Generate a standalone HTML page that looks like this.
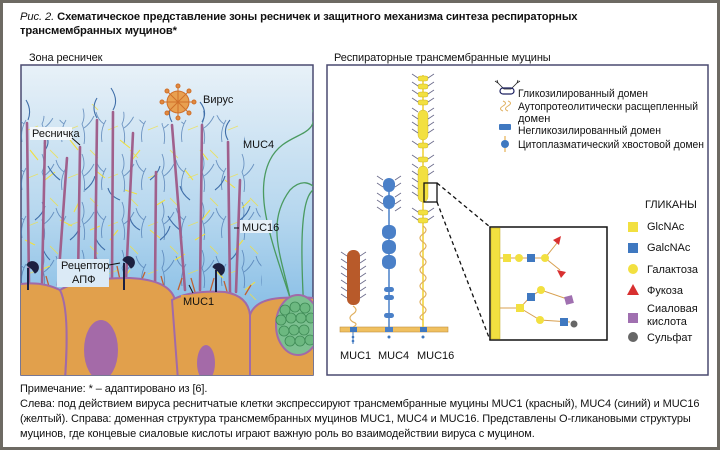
<!DOCTYPE html>
<html><head><meta charset="utf-8"><style>
html,body{margin:0;padding:0}
body{width:720px;height:450px;background:#fff;font-family:"Liberation Sans",sans-serif;position:relative;overflow:hidden}
.frame{position:absolute;left:0;top:0;width:714px;height:444px;border:3px solid #6d6a63}
.t{position:absolute;font-size:11px;color:#111;white-space:nowrap;letter-spacing:-0.1px}
</style></head><body>
<div class="frame"></div>
<div class="t" style="left:20px;top:11px;font-weight:bold;font-size:11.2px"><i style="font-weight:normal">Рис. 2.</i> Схематическое представление зоны ресничек и защитного механизма синтеза респираторных</div>
<div class="t" style="left:20px;top:25px;font-weight:bold;font-size:11.2px">трансмембранных муцинов*</div>
<div class="t" style="left:29px;top:52px">Зона ресничек</div>
<div class="t" style="left:334px;top:52px">Респираторные трансмембранные муцины</div>
<svg width="720" height="450" style="position:absolute;left:0;top:0" font-family="Liberation Sans, sans-serif">
<defs>
<linearGradient id="bg" x1="0" y1="0" x2="0" y2="1"><stop offset="0" stop-color="#e8f1f8"/><stop offset="0.5" stop-color="#b4d6ee"/><stop offset="1" stop-color="#6aaee0"/></linearGradient>
<clipPath id="lc"><rect x="21" y="65" width="292" height="310"/></clipPath>
<pattern id="muc" x="0" y="0" width="40" height="48" patternUnits="userSpaceOnUse">
<g fill="none" stroke-width="0.9" opacity="0.75">
<path stroke="#4a78b0" d="M4 48 q2 -10 -2 -20 q4 -8 0 -18 M4 32 q6 -4 10 -12 M22 46 q-2 -12 4 -22 M24 28 q-6 -4 -8 -12"/>
<path stroke="#f0e040" d="M10 6 l8 8 M28 34 l10 -4"/>
</g>
</pattern>
</defs>
<rect x="21" y="65" width="292" height="310" fill="url(#bg)" stroke="#4a4a70" stroke-width="1.5"/>
<g clip-path="url(#lc)">
<path d="M21 110 L60 120 L100 100 L140 120 L175 125 L205 110 L240 125 L260 180 L262 300 L21 300Z" fill="url(#muc)"/>
<g fill="none" stroke="#4a9a60" stroke-width="1.3">
<path d="M300 330 C280 260 250 200 270 160 C285 130 320 140 313 110"/>
<path d="M295 330 C290 270 260 230 290 190 C310 170 320 200 313 180"/>
<path d="M305 330 C300 250 300 200 313 190"/>
</g>
<g fill="none" stroke-width="1.1">
<path stroke="#f0e040" d="M30 150 l8 10 M45 180 l10 -8 M60 220 l12 6 M25 240 l10 5 M80 200 l-6 12 M95 170 l10 8 M110 240 l8 -10 M125 190 l12 4 M140 150 l-8 10 M150 230 l10 8 M165 200 l-10 6 M185 170 l8 10 M195 240 l10 -6 M210 210 l-8 10 M225 180 l10 8 M235 250 l8 -10 M245 290 l10 -8 M215 270 l8 8 M40 270 l10 -4 M70 140 l8 10 M120 140 l10 8 M175 260 l10 -6 M100 270 l8 6 M130 270 l-6 8 M60 260 l10 6 M200 150 l8 10 M250 200 l-8 8 M90 230 l10 -4"/>
<path stroke="#3f6ea8" d="M28 120 q4 -10 -2 -20 M45 150 q6 -8 0 -16 M97 118 q-6 -10 0 -20 M113 110 q6 -10 -2 -22 M172 122 q-6 -10 2 -20 M202 122 q6 -10 -2 -20 M228 140 q-6 -10 2 -20 M60 180 q-8 -6 -12 -14 M85 190 q8 -6 10 -14 M120 200 q-10 -4 -12 -12 M150 180 q8 -6 10 -14 M190 200 q-8 -6 -10 -14 M215 190 q8 -6 10 -14 M240 220 q8 -6 10 -14 M35 220 q8 -6 10 -14 M105 250 q-8 -6 -10 -14 M160 240 q8 -6 10 -14 M180 230 q-8 -6 -12 -14 M70 240 q8 -6 10 -14 M140 230 q-8 -4 -10 -12 M230 260 q8 -6 8 -14 M50 260 q-6 -6 -8 -14"/>
</g>
<g stroke="#a0608c" stroke-width="2.6" stroke-linecap="round" fill="none">
<path d="M27 123 L29 285"/><path d="M45 140 L42 285"/><path d="M67 158 L58 285"/>
<path d="M80 147 L78 280"/><path d="M97 120 L95 278"/><path d="M113 112 L112 278"/>
<path d="M133 133 L126 280"/><path d="M156 172 L155 290"/><path d="M172 125 L185 290"/>
<path d="M202 125 L200 290"/><path d="M228 142 L230 292"/><path d="M240 180 L236 292"/>
</g>
<g stroke="#c06030" stroke-width="1.3" fill="none">
<path d="M50 290 l-4 -14 M62 285 l5 -12 M86 282 l-3 -14 M105 280 l4 -12 M120 280 l-3 -14 M140 284 l5 -12 M165 290 l-4 -14 M178 290 l4 -12 M195 292 l-4 -14 M210 292 l4 -14 M228 295 l-4 -14 M245 295 l6 -10"/>
</g>
<g stroke="#a16aa8" stroke-width="2" fill="#e1a04c">
<path d="M15 285 Q40 280 60 290 Q70 300 65 380 L15 380 Z"/>
<path d="M60 290 Q80 278 130 278 Q170 280 175 300 L180 380 L65 380 Q70 310 60 290Z"/>
<path d="M172 300 Q190 290 225 292 Q248 296 250 315 L250 380 L178 380 Z"/>
<path d="M250 315 Q255 300 280 298 Q315 296 320 300 L320 380 L250 380Z"/>
</g>
<ellipse cx="101" cy="350" rx="17" ry="30" fill="#a46aa8"/>
<ellipse cx="206" cy="363" rx="9" ry="18" fill="#a46aa8"/>
<g fill="#6cb880" stroke="#3e8a55" stroke-width="0.8">
<ellipse cx="298" cy="325" rx="22" ry="30" fill="#7cc090" stroke="#a16aa8" stroke-width="2"/>
<circle cx="285" cy="310" r="5"/><circle cx="295" cy="307" r="5"/><circle cx="305" cy="308" r="5"/><circle cx="281" cy="320" r="5"/><circle cx="291" cy="318" r="5"/><circle cx="301" cy="318" r="5"/><circle cx="311" cy="318" r="5"/><circle cx="284" cy="331" r="5"/><circle cx="294" cy="330" r="5"/><circle cx="304" cy="330" r="5"/><circle cx="290" cy="341" r="5"/><circle cx="300" cy="341" r="5"/><circle cx="310" cy="340" r="5"/>
</g>
<g fill="#1c2040" stroke="#1c2040">
<path d="M27 265 a6 6 0 1 1 8 8 l-3 -4z"/><line x1="28" y1="268" x2="28" y2="290" stroke-width="2"/>
<path d="M123 260 a6 6 0 1 1 8 8 l-3 -4z"/><line x1="124" y1="263" x2="124" y2="290" stroke-width="2"/>
<path d="M213 267 a6 6 0 1 1 8 8 l-3 -4z"/><line x1="216" y1="270" x2="216" y2="292" stroke-width="2"/>
</g>
</g>
<g stroke="#d0702a" stroke-width="1" fill="#e08a40">
<circle cx="178" cy="102" r="11" fill="#e8a050"/>
<g><line x1="178" y1="86" x2="178" y2="118"/><line x1="162" y1="102" x2="194" y2="102"/><line x1="167" y1="91" x2="189" y2="113"/><line x1="189" y1="91" x2="167" y2="113"/></g>
<circle cx="178" cy="86" r="2"/><circle cx="178" cy="118" r="2"/><circle cx="162" cy="102" r="2"/><circle cx="194" cy="102" r="2"/><circle cx="167" cy="91" r="2"/><circle cx="189" cy="113" r="2"/><circle cx="189" cy="91" r="2"/><circle cx="167" cy="113" r="2"/>
</g>
<g font-size="11" fill="#111">
<text x="203" y="103">Вирус</text>
<rect x="30" y="127" width="42" height="13" fill="#f4f8fb"/><text x="32" y="137">Ресничка</text>
<line x1="72" y1="138" x2="80" y2="145" stroke="#111"/>
<text x="243" y="148">MUC4</text>
<rect x="240" y="220" width="32" height="13" fill="#e6f0f8"/><text x="242" y="231">MUC16</text>
<line x1="234" y1="228" x2="239" y2="228" stroke="#111"/>
<rect x="57" y="259" width="52" height="28" fill="#dbeaf6"/><text x="61" y="269">Рецептор</text><text x="72" y="283">АПФ</text>
<line x1="109" y1="265" x2="120" y2="263" stroke="#111"/>
<rect x="181" y="295" width="34" height="13" fill="#e1a04c"/><text x="183" y="305">MUC1</text>
<line x1="193" y1="293" x2="189" y2="285" stroke="#111"/>
</g>

<rect x="327" y="65" width="381" height="310" fill="#fff" stroke="#4a4a70" stroke-width="1.5"/>
<rect x="340" y="327" width="108" height="5" fill="#f0c060" stroke="#c09040" stroke-width="0.6"/>
<rect x="347" y="250" width="13" height="55" rx="6" fill="#b85a2a"/>
<path d="M353 306 q6 4 0 8 q-6 4 0 8 q6 2 0 5" stroke="#e0b060" fill="none" stroke-width="1.2"/>
<g stroke="#6a6a8a" stroke-width="0.8" fill="none">
<path d="M347 256 l-6 -4 M347 263 l-6 -4 M347 270 l-6 -4 M347 277 l-6 -4 M347 284 l-6 -4 M347 291 l-6 -4 M347 298 l-6 -4 M360 256 l6 -4 M360 263 l6 -4 M360 270 l6 -4 M360 277 l6 -4 M360 284 l6 -4 M360 291 l6 -4 M360 298 l6 -4"/>
</g>
<rect x="350" y="327" width="7" height="5" fill="#3f78c0"/>
<path d="M353 332 v12" stroke="#3f78c0"/><circle cx="353" cy="337" r="1.3" fill="#3f78c0"/><circle cx="353" cy="341" r="1.3" fill="#3f78c0"/>
<line x1="389" y1="180" x2="389" y2="327" stroke="#4a80c8" stroke-width="1.5"/>
<g fill="#4a80c8">
<rect x="383" y="178" width="12" height="14" rx="6"/><rect x="383" y="195" width="12" height="14" rx="6"/>
<rect x="382" y="225" width="14" height="14" rx="6"/><rect x="382" y="240" width="14" height="14" rx="6"/><rect x="382" y="255" width="14" height="14" rx="6"/>
<rect x="384" y="287" width="10" height="5" rx="2.5"/><rect x="384" y="295" width="10" height="5" rx="2.5"/><rect x="384" y="313" width="10" height="5" rx="2.5"/>
<rect x="385" y="327" width="8" height="5"/>
</g>
<circle cx="389" cy="337" r="1.5" fill="#3f78c0"/>
<g stroke="#6a6a8a" stroke-width="0.8" fill="none">
<path d="M383 180 l-6 -4 M383 187 l-6 -4 M383 197 l-6 -4 M383 204 l-6 -4 M383 211 l-6 -4 M395 180 l6 -4 M395 187 l6 -4 M395 197 l6 -4 M395 204 l6 -4 M395 211 l6 -4"/>
</g>
<line x1="423" y1="75" x2="423" y2="327" stroke="#f0d030" stroke-width="1.5"/>
<g fill="#f2e040" stroke="#c0a820" stroke-width="0.4">
<rect x="418" y="76" width="10" height="5" rx="2"/><rect x="418" y="84" width="10" height="5" rx="2"/><rect x="418" y="92" width="10" height="5" rx="2"/><rect x="418" y="100" width="10" height="5" rx="2"/>
<rect x="418" y="110" width="10" height="30" rx="5"/><rect x="418" y="143" width="10" height="5" rx="2"/><rect x="418" y="157" width="10" height="5" rx="2"/>
<rect x="418" y="166" width="10" height="36" rx="5"/><rect x="418" y="210" width="10" height="5" rx="2"/><rect x="418" y="218" width="10" height="5" rx="2"/>
</g>
<path d="M423 226 q6 4 0 8 q-6 4 0 8 q6 4 0 8 q-6 4 0 8 q6 4 0 8 q-6 4 0 8 q6 4 0 8 q-6 4 0 8 q6 4 0 8 q-6 4 0 8 q6 4 0 8 q-6 4 0 6" stroke="#e0b060" fill="none" stroke-width="1.2"/>
<g stroke="#6a6a8a" stroke-width="0.8" fill="none">
<path d="M418 78 l-6 -4 M418 86 l-6 -4 M418 94 l-6 -4 M418 102 l-6 -4 M418 112 l-6 -4 M418 119 l-6 -4 M418 126 l-6 -4 M418 133 l-6 -4 M418 145 l-6 -4 M418 159 l-6 -4 M418 168 l-6 -4 M418 175 l-6 -4 M418 182 l-6 -4 M418 189 l-6 -4 M418 196 l-6 -4 M418 212 l-6 -4 M418 220 l-6 -4 M428 78 l6 -4 M428 86 l6 -4 M428 94 l6 -4 M428 102 l6 -4 M428 112 l6 -4 M428 119 l6 -4 M428 126 l6 -4 M428 133 l6 -4 M428 145 l6 -4 M428 159 l6 -4 M428 168 l6 -4 M428 175 l6 -4 M428 212 l6 -4 M428 220 l6 -4"/>
</g>
<rect x="424" y="183" width="13" height="19" fill="none" stroke="#111" stroke-width="1.3"/>
<rect x="420" y="327" width="7" height="5" fill="#3f78c0"/><circle cx="423" cy="337" r="1.5" fill="#3f78c0"/>
<g stroke="#111" stroke-width="1.3" stroke-dasharray="4,3"><line x1="437" y1="183" x2="490" y2="227"/><line x1="437" y1="202" x2="490" y2="340"/></g>
<g font-size="11" fill="#111"><text x="340" y="359">MUC1</text><text x="378" y="359">MUC4</text><text x="417" y="359">MUC16</text></g>
<rect x="490" y="227" width="117" height="113" fill="#fff" stroke="#111" stroke-width="1.5"/>
<rect x="491" y="228" width="9" height="111" fill="#f2e040" stroke="#c0a820" stroke-width="0.5"/>
<g stroke="#d8a050" stroke-width="1" fill="none">
<path d="M500 258 H545 L557 243 M545 258 L560 270"/>
<path d="M500 308 H520 L530 297 L541 290 L570 300 M520 308 L540 320 L570 322"/>
</g>
<rect x="503" y="254" width="8" height="8" fill="#f2e040"/><circle cx="519" cy="258" r="4" fill="#f2e040"/><rect x="527" y="254" width="8" height="8" fill="#3f78c0"/><circle cx="545" cy="258" r="4" fill="#f2e040"/>
<path d="M553 240 l8 -4 l-2 9z" fill="#d83030"/><path d="M557 270 l9 2 l-5 6z" fill="#d83030"/>
<rect x="516" y="304" width="8" height="8" fill="#f2e040"/><rect x="527" y="293" width="8" height="8" fill="#3f78c0"/><circle cx="541" cy="290" r="4" fill="#f2e040"/><rect x="565" y="296" width="8" height="8" fill="#a070b0" transform="rotate(-15 569 300)"/>
<circle cx="540" cy="320" r="4" fill="#f2e040"/><rect x="560" y="318" width="8" height="8" fill="#3f78c0"/><circle cx="574" cy="324" r="3.5" fill="#666"/>
<path d="M498 83 l6 6 h7 l6 -6 M498 83 l-3 -2 M498 83 l-1 -3 M517 83 l3 -2 M517 83 l1 -3" stroke="#222" fill="none" stroke-width="0.8"/>
<rect x="500" y="88" width="14" height="6" rx="3" fill="none" stroke="#1c2060" stroke-width="1.2"/>
<path d="M503 101 q5 2 0 5 q-5 3 0 5 M508 101 q5 2 0 5 q-5 3 0 5" stroke="#e0b060" fill="none"/>
<rect x="499" y="124" width="12" height="6" rx="1" fill="#3f78c0"/>
<line x1="505" y1="136" x2="505" y2="152" stroke="#e0a030"/><circle cx="505" cy="144" r="4" fill="#3f78c0"/>
<g font-size="11" fill="#111">
<text x="518" y="97" textLength="130" lengthAdjust="spacingAndGlyphs">Гликозилированный домен</text>
<text x="518" y="110" textLength="180" lengthAdjust="spacingAndGlyphs">Аутопротеолитически расщепленный</text>
<text x="518" y="122">домен</text>
<text x="518" y="134" textLength="143" lengthAdjust="spacingAndGlyphs">Негликозилированный домен</text>
<text x="518" y="148" textLength="186" lengthAdjust="spacingAndGlyphs">Цитоплазматический хвостовой домен</text>
<text x="645" y="208">ГЛИКАНЫ</text>
<text x="647" y="230">GlcNAc</text><text x="647" y="251">GalcNAc</text><text x="647" y="273">Галактоза</text><text x="647" y="294">Фукоза</text><text x="647" y="312">Сиаловая</text><text x="647" y="325">кислота</text><text x="647" y="341">Сульфат</text>
</g>
<rect x="628" y="222" width="10" height="10" fill="#f2e040"/>
<rect x="628" y="243" width="10" height="10" fill="#3f78c0"/>
<circle cx="633" cy="269" r="5" fill="#f2e040"/>
<path d="M627 295 l6 -11 l6 11z" fill="#d83030"/>
<rect x="628" y="313" width="10" height="10" fill="#a070b0"/>
<circle cx="633" cy="337" r="5" fill="#666"/>
</svg>
<div class="t" style="left:20px;top:383px">Примечание: * – адаптировано из [6].</div>
<div class="t" style="left:20px;top:398px">Слева: под действием вируса реснитчатые клетки экспрессируют трансмембранные муцины MUC1 (красный), MUC4 (синий) и MUC16</div>
<div class="t" style="left:20px;top:413px">(желтый). Справа: доменная структура трансмембранных муцинов MUC1, MUC4 и MUC16. Представлены О-гликановыми структуры</div>
<div class="t" style="left:20px;top:428px">муцинов, где концевые сиаловые кислоты играют важную роль во взаимодействии вируса с муцином.</div>
</body></html>
